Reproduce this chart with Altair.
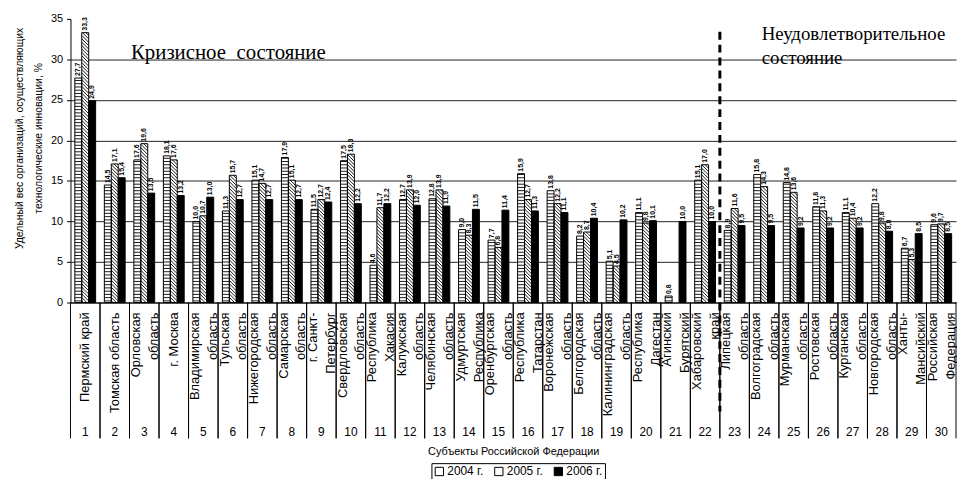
import altair as alt
import pandas as pd

categories = [
    "Пермский край", "Томская область", "Орловская\nобласть", "г. Москва",
    "Владимирская\nобласть", "Тульская\nобласть", "Нижегородская\nобласть",
    "Самарская\nобласть", "г. Санкт-\nПетербург", "Свердловская\nобласть",
    "Республика\nХакасия", "Калужская\nобласть", "Челябинская\nобласть",
    "Удмуртская\nРеспублика", "Оренбургская\nобласть", "Республика\nТатарстан",
    "Воронежская\nобласть", "Белгородская\nобласть", "Калининградская\nобласть",
    "Республика\nДагестан", "Агинский\nБурятский", "Хабаровский\nкрай",
    "Липецкая\nобласть", "Волгоградская\nобласть", "Мурманская\nобласть",
    "Ростовская\nобласть", "Курганская\nобласть", "Новгородская\nобласть",
    "Ханты-\nМансийский", "Российская\nФедерация",
]
numbers = list(range(1, 31))
series = ["2004 г.", "2005 г.", "2006 г."]
v2004 = [27.7, 14.5, 17.6, 18.1, 10.0, 11.3, 15.1, 17.9, 11.5, 17.5,
         4.6, 12.7, 12.8, 9.0, 7.7, 15.9, 13.8, 8.2, 5.1, 11.1,
         0.8, 15.1, 8.9, 15.8, 14.8, 11.8, 11.1, 12.2, 6.7, 9.6]
v2005 = [33.3, 17.1, 19.6, 17.6, 10.7, 15.7, 14.7, 15.1, 12.7, 18.3,
         11.7, 13.9, 13.9, 8.3, 6.8, 12.7, 12.2, 8.7, 4.5, 9.8,
         0.0, 17.0, 11.6, 14.3, 13.6, 11.3, 10.4, 9.8, 5.3, 9.7]
v2006 = [24.9, 15.4, 13.5, 13.2, 13.0, 12.7, 12.7, 12.7, 12.4, 12.2,
         12.2, 12.0, 11.9, 11.5, 11.4, 11.3, 11.1, 10.4, 10.2, 10.1,
         10.0, 10.0, 9.5, 9.5, 9.2, 9.2, 9.2, 8.8, 8.5, 8.5]
y_ticks = [0, 5, 10, 15, 20, 25, 30, 35]
y_title = ["Удельный вес организаций, осуществляющих", "технологические инновации, %"]
x_title = "Субъекты Российской Федерации"
note_left = ["Кризисное \u00a0состояние"]
note_right = ["Неудовлетворительное\nсостояние"]
split_after = [22]

rows = []
for i, (name, a, b, c) in enumerate(zip(categories, v2004, v2005, v2006)):
    for k, (s, v) in enumerate(zip(series, (a, b, c))):
        rows.append({"idx": numbers[i], "name": name, "series": s, "k": k, "v": v})
df = pd.DataFrame(rows)

W, H = 893, 286
GROUP = 0.705
BW = GROUP / 3
D = BW * (W / 30) / (H / 35)   # 45 degree hatch in data units
S1 = 0.4
S2 = 0.42

xs = alt.Scale(domain=[0.5, 30.5], nice=False, zero=False)
ys = alt.Scale(domain=[0, 35], nice=False)

xaxis = alt.Axis(values=numbers, title=x_title, grid=False, ticks=False, labels=False,
                 tickSize=0, domainColor="#000",
                 titleFontSize=11, titleFontWeight="normal", titleColor="#000",
                 titleY=144, titleBaseline="top")
yaxis = alt.Axis(values=y_ticks, grid=True, gridColor="#222",
                 gridOpacity={"condition": {"test": "datum.value >= 35", "value": 0}, "value": 1},
                 tickSize=4, tickColor="#000", domainColor="#000", labelFontSize=11,
                 labelPadding=4, labelColor="#000", title=y_title, titleAngle=270,
                 titleX=-56, titleY=120, titleBaseline="top", titleAlign="center",
                 titleFontSize=10.5, titleFontWeight="normal", titleLineHeight=19,
                 titleColor="#000")

base = alt.Chart(df).transform_calculate(
    x1=f"datum.idx - {GROUP / 2} + datum.k * {BW}",
    x2=f"datum.x1 + {BW}",
    xc=f"datum.x1 + {BW / 2}",
    lab="replace(format(datum.v, '.1f'), '.', ',')",
)

bars = base.mark_rect().encode(
    x=alt.X("x1:Q", scale=xs, axis=xaxis),
    x2="x2:Q",
    y=alt.Y("v:Q", scale=ys, axis=yaxis),
    y2=alt.Y2(datum=0),
    fill=alt.Fill("series:N", scale=alt.Scale(domain=series, range=["#ffffff", "#ffffff", "#000000"]),
                  legend=alt.Legend(orient="none", legendX=364, legendY=448, direction="horizontal",
                                    title=None, symbolType="square", symbolSize=70,
                                    symbolStrokeColor="#000", symbolStrokeWidth=1,
                                    labelFontSize=12, labelColor="#000", strokeColor="#000",
                                    padding=2, columnPadding=8, labelOffset=2, fillColor="#fff")),
)

stripes = base.transform_filter("datum.k == 0").transform_calculate(
    lvl=f"sequence({S1 / 2}, datum.v, {S1})"
).transform_flatten(["lvl"]).mark_rule(color="#000", strokeWidth=0.9).encode(
    x=alt.X("x1:Q", scale=xs), x2="x2:Q", y=alt.Y("lvl:Q", scale=ys)
)

diag = base.transform_filter("datum.k == 1").transform_calculate(
    lvl=f"sequence({-D + S2 / 2}, datum.v, {S2})"
).transform_flatten(["lvl"]).transform_calculate(
    yl=f"min(datum.lvl + {D}, datum.v)",
    yr="max(datum.lvl, 0)",
).transform_calculate(
    xl=f"datum.x2 - (datum.yl - datum.lvl) * {BW / D}",
    xr=f"datum.x2 - (datum.yr - datum.lvl) * {BW / D}",
).transform_filter("datum.yl > datum.yr").mark_rule(color="#000", strokeWidth=0.9).encode(
    x=alt.X("xl:Q", scale=xs), x2="xr:Q", y=alt.Y("yl:Q", scale=ys), y2="yr:Q"
)

outlines = base.transform_filter("datum.v > 0").mark_rect(
    fillOpacity=0, stroke="#000", strokeWidth=1
).encode(
    x=alt.X("x1:Q", scale=xs), x2="x2:Q", y=alt.Y("v:Q", scale=ys), y2=alt.Y2(datum=0)
)

vlabels = base.transform_filter("datum.v > 0").mark_text(
    angle=270, align="left", baseline="middle", dx=2, fontSize=7, fontWeight="bold", color="#000"
).encode(x=alt.X("xc:Q", scale=xs), y=alt.Y("v:Q", scale=ys), text="lab:N")

names = base.transform_filter("datum.k == 0").transform_calculate(
    nlines="length(split(datum.name, '\\n'))",
).transform_calculate(
    nx="datum.idx - (datum.nlines - 1) * 0.28"
).mark_text(
    angle=270, align="right", baseline="middle", lineBreak="\n", fontSize=13,
    lineHeight=18, color="#000"
).encode(x=alt.X("nx:Q", scale=xs), y=alt.value(H + 10), text="name:N")

nums = base.transform_filter("datum.k == 0").mark_text(
    align="center", baseline="middle", fontSize=12, color="#000"
).encode(x=alt.X("idx:Q", scale=xs), y=alt.value(H + 131), text="idx:N")

sep1 = base.transform_filter("datum.k == 0").transform_calculate(b="datum.idx - 0.5").mark_rule(
    color="#000", strokeWidth=1
).encode(x=alt.X("b:Q", scale=xs), y=alt.value(H), y2=alt.value(H + 137))
sep2 = base.transform_filter("datum.k == 0").transform_calculate(b="datum.idx + 0.5").mark_rule(
    color="#000", strokeWidth=1
).encode(x=alt.X("b:Q", scale=xs), y=alt.value(H), y2=alt.value(H + 137))

dashed = alt.Chart(pd.DataFrame({"after": split_after})).transform_calculate(
    b="datum.after + 0.5"
).mark_rule(strokeDash=[8, 5], strokeWidth=3, color="#000").encode(
    x=alt.X("b:Q", scale=xs), y=alt.value(13), y2=alt.value(396)
)

t_left = alt.Chart(pd.DataFrame({"t": note_left})).mark_text(
    font="Liberation Serif", fontSize=21, align="left", baseline="alphabetic", color="#000"
).encode(x=alt.value(61), y=alt.value(40), text="t:N")
t_right = alt.Chart(pd.DataFrame({"t": note_right})).mark_text(
    font="Liberation Serif", fontSize=19, align="left", baseline="alphabetic", color="#000",
    lineBreak="\n", lineHeight=24
).encode(x=alt.value(697), y=alt.value(21), text="t:N")

chart = alt.layer(
    bars, stripes, diag, outlines, vlabels, names, nums, sep1, sep2, dashed, t_left, t_right
).properties(
    width=W, height=H,
    autosize=alt.AutoSizeParams(type="none"),
    padding={"left": 63, "top": 9, "right": 1, "bottom": 176},
    background="#ffffff",
).configure(font="Liberation Sans").configure_view(stroke=None)

chart.save("out.html", embed_options={"renderer": "svg", "actions": False})
